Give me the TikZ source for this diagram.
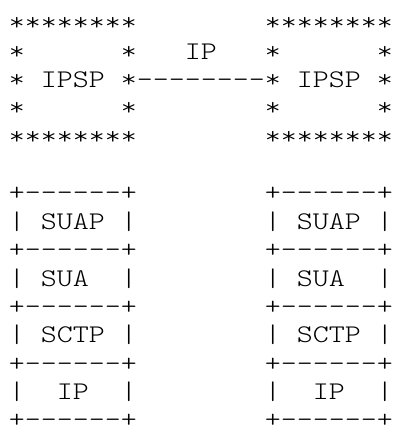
\documentclass[tikz,border=0pt]{standalone}
\usepackage{fontspec}
\newfontfamily\asciifont{lmmonolt10-regular}[Extension=.otf,FakeStretch=1.2]
\newlength\charw
\setlength\charw{16pt}
\newcommand\gap[1]{\hspace*{#1\charw}}

\begin{document}
\begin{tikzpicture}[x=1pt,y=1pt,every node/.style={anchor=base west,inner sep=0pt,font=\asciifont\fontsize{25.4}{28.35}\selectfont}]
  \useasboundingbox (0,0) rectangle (393,439);

  % the two IPSPs
  \node (r0) at (8.7,408.1)  {********\gap{8}********};
  \node (r1) at (8.7,379.75) {*\gap{6}*\gap{3}IP\gap{3}*\gap{6}*};
  \node (r2) at (8.7,351.4)  {*\gap{1}IPSP\gap{1}*-{}-{}-{}-{}-{}-{}-{}-*\gap{1}IPSP\gap{1}*};
  \node (r3) at (8.7,323.05) {*\gap{6}*\gap{8}*\gap{6}*};
  \node (r4) at (8.7,294.7)  {********\gap{8}********};

  % the two stacks
  \node (r6)  at (8.7,238.0)  {+-{}-{}-{}-{}-{}-+\gap{8}+-{}-{}-{}-{}-{}-+};
  \node (r7)  at (8.7,209.65) {|\gap{1}SUAP\gap{1}|\gap{8}|\gap{1}SUAP\gap{1}|};
  \node (r8)  at (8.7,181.3)  {+-{}-{}-{}-{}-{}-+\gap{8}+-{}-{}-{}-{}-{}-+};
  \node (r9)  at (8.7,152.95) {|\gap{1}SUA\gap{2}|\gap{8}|\gap{1}SUA\gap{2}|};
  \node (r10) at (8.7,124.6)  {+-{}-{}-{}-{}-{}-+\gap{8}+-{}-{}-{}-{}-{}-+};
  \node (r11) at (8.7,96.25)  {|\gap{1}SCTP\gap{1}|\gap{8}|\gap{1}SCTP\gap{1}|};
  \node (r12) at (8.7,67.9)   {+-{}-{}-{}-{}-{}-+\gap{8}+-{}-{}-{}-{}-{}-+};
  \node (r13) at (8.7,39.55)  {|\gap{2}IP\gap{2}|\gap{8}|\gap{2}IP\gap{2}|};
  \node (r14) at (8.7,11.2)   {+-{}-{}-{}-{}-{}-+\gap{8}+-{}-{}-{}-{}-{}-+};
\end{tikzpicture}
\end{document}
